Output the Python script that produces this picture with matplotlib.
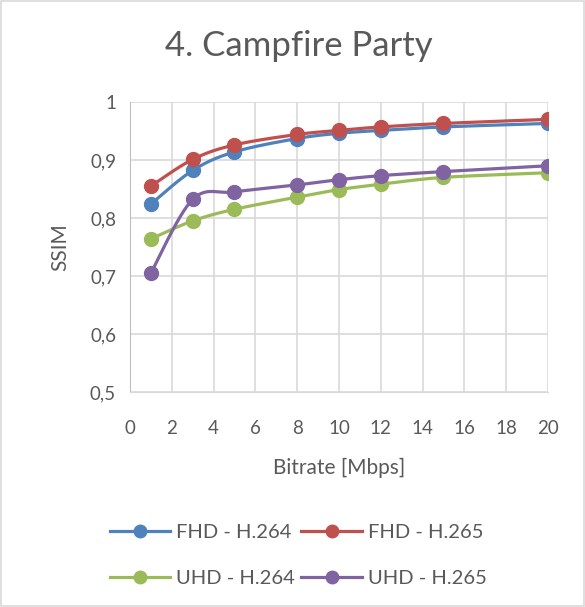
import numpy as np
import matplotlib.pyplot as plt
from matplotlib.patches import Rectangle

plt.rcParams['font.family'] = ['Lato', 'DejaVu Sans']

bitrate = [1, 3, 5, 8, 10, 12, 15, 20]
fhd_264 = [0.824, 0.882, 0.914, 0.937, 0.946, 0.951, 0.957, 0.963]
fhd_265 = [0.855, 0.901, 0.926, 0.944, 0.951, 0.957, 0.963, 0.970]
uhd_264 = [0.764, 0.795, 0.815, 0.836, 0.849, 0.858, 0.870, 0.878]
uhd_265 = [0.705, 0.832, 0.845, 0.857, 0.866, 0.873, 0.880, 0.890]

series = [
    ('FHD - H.264', fhd_264, '#4F81BD'),
    ('FHD - H.265', fhd_265, '#C0504D'),
    ('UHD - H.264', uhd_264, '#9BBB59'),
    ('UHD - H.265', uhd_265, '#8064A2'),
]


def smooth(x, y, n=30):
    # Excel-like smoothed line: Catmull-Rom via cubic bezier segments
    x = np.asarray(x, float)
    y = np.asarray(y, float)
    px = np.concatenate([[x[0]], x, [x[-1]]])
    py = np.concatenate([[y[0]], y, [y[-1]]])
    xs, ys = [], []
    t = np.linspace(0, 1, n)
    for i in range(1, len(px) - 2):
        p0 = np.array([px[i], py[i]])
        p3 = np.array([px[i + 1], py[i + 1]])
        c1 = p0 + (np.array([px[i + 1], py[i + 1]]) - np.array([px[i - 1], py[i - 1]])) / 6
        c2 = p3 - (np.array([px[i + 2], py[i + 2]]) - np.array([px[i], py[i]])) / 6
        b = ((1 - t) ** 3)[:, None] * p0 + (3 * (1 - t) ** 2 * t)[:, None] * c1 \
            + (3 * (1 - t) * t ** 2)[:, None] * c2 + (t ** 3)[:, None] * p3
        xs.extend(b[:, 0])
        ys.extend(b[:, 1])
    return xs, ys


fig = plt.figure(figsize=(5.85, 6.07), dpi=100)
ax = fig.add_axes([0.2222, 0.3542, 0.7145, 0.4778])

handles = []
for name, vals, col in series:
    sx, sy = smooth(bitrate, vals)
    ax.plot(sx, sy, color=col, lw=2.3, zorder=3)
    ax.plot(bitrate, vals, 'o', color=col, ms=10, zorder=4)
    h, = ax.plot([], [], '-o', color=col, lw=2.3, ms=9, label=name)
    handles.append(h)

ax.set_xlim(0, 20)
ax.set_ylim(0.5, 1.0)
ax.set_xticks(range(0, 21, 2))
yt = [0.5, 0.6, 0.7, 0.8, 0.9, 1.0]
ax.set_yticks(yt)
ax.set_yticklabels(['0,5', '0,6', '0,7', '0,8', '0,9', '1'])
ax.grid(True, color='#d9d9d9', lw=1.2)
ax.set_axisbelow(True)
for s in ax.spines.values():
    s.set_visible(False)
ax.spines['left'].set_visible(True)
ax.spines['left'].set_color('#bfbfbf')
ax.spines['bottom'].set_visible(True)
ax.spines['bottom'].set_color('#d9d9d9')
ax.tick_params(length=0, labelsize=13.5, colors='#595959')
ax.tick_params(axis='x', pad=20)
ax.tick_params(axis='y', pad=10)

ax.set_xlabel('Bitrate [Mbps]', fontsize=15, color='#595959', labelpad=15)
ax.set_ylabel('SSIM', fontsize=15, color='#595959', labelpad=14)
fig.text(0.51, 0.925, '4. Campfire Party', ha='center', va='center',
         fontsize=25, color='#595959')

# column-wise fill: reorder so rows read FHD, then UHD
order = [handles[0], handles[2], handles[1], handles[3]]
fig.legend(handles=order, loc='center', bbox_to_anchor=(0.51, 0.085), ncol=2,
           frameon=False, fontsize=14.5, handlelength=3.0, columnspacing=0.3,
           handletextpad=0.3, labelspacing=1.45, labelcolor='#595959')

fig.patches.append(Rectangle((0.002, 0.002), 0.996, 0.996, transform=fig.transFigure,
                             fill=False, edgecolor='#d9d9d9', lw=1.2))

fig.savefig('out.png', dpi=100)
